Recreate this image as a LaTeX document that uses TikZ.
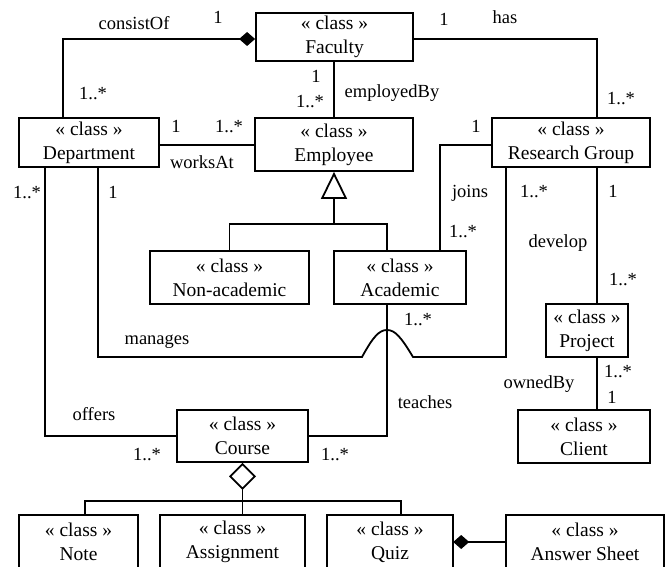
\documentclass[tikz,border=0pt]{standalone}
\usepackage{fontspec}
\setmainfont{Liberation Serif}
\usetikzlibrary{arrows.meta,calc}

\tikzset{
  umlclass/.style={draw, line width=1.8pt, inner sep=0pt, align=center,
    font=\fontsize{19.5}{24}\selectfont},
  openclass/.style={inner sep=0pt, align=center,
    font=\fontsize{19.5}{24}\selectfont},
  assoc/.style={line width=1.8pt},
  lbl/.style={anchor=base, inner sep=0pt, font=\fontsize{18.5}{22}\selectfont},
  compo/.style={-{Diamond[length=16pt,width=14pt]}},
  aggr/.style={{Diamond[open,fill=white,length=27pt,width=27pt]}-},
  inherit/.style={-{Triangle[open,fill=white,length=27pt,width=26pt]}},
}

\begin{document}
\begin{tikzpicture}[x=1pt,y=-1pt]
  \path[use as bounding box] (0,0) rectangle (669,567);
  \clip (0,0) rectangle (669,567);

  % classes
  \node[umlclass, minimum width=157pt, minimum height=48pt] (faculty) at (334.5,37) {« class »\\Faculty};
  \node[umlclass, minimum width=140pt, minimum height=49pt] (dept) at (89,142.5) {« class »\\Department};
  \node[umlclass, minimum width=158pt, minimum height=53pt] (employee) at (334,144.5) {« class »\\Employee};
  \node[umlclass, minimum width=158pt, minimum height=49pt] (group) at (571,142.5) {« class »\\Research Group};
  \node[umlclass, minimum width=159pt, minimum height=53pt] (nonacad) at (229.5,277.5) {« class »\\Non-academic};
  \node[umlclass, minimum width=132pt, minimum height=53pt] (acad) at (400,277.5) {« class »\\Academic};
  \node[umlclass, minimum width=82pt, minimum height=53pt] (project) at (587,330.5) {« class »\\Project};
  \node[umlclass, minimum width=132pt, minimum height=53pt] (client) at (584,436.5) {« class »\\Client};
  \node[umlclass, minimum width=131pt, minimum height=52pt] (course) at (242.5,436) {« class »\\Course};

  % bottom row, running off the lower edge
  \node[openclass, minimum width=119pt, minimum height=54pt] (note) at (78.5,542) {« class »\\Note};
  \node[openclass, minimum width=145pt, minimum height=54pt] (assign) at (232.5,542) {« class »\\Assignment};
  \node[openclass, minimum width=126pt, minimum height=54pt] (quiz) at (390,542) {« class »\\Quiz};
  \node[openclass, minimum width=158pt, minimum height=54pt] (sheet) at (585,542) {« class »\\Answer Sheet};
  \foreach \n in {note,assign,quiz,sheet}
    \draw[assoc] ([yshift=-6pt]\n.south west) -- (\n.north west) -- (\n.north east) -- ([yshift=-6pt]\n.south east);

  % consistOf
  \draw[assoc, compo] ([xshift=-26pt]dept.north) |- ([yshift=-2pt]faculty.west);
  % has
  \draw[assoc] ([yshift=-2pt]faculty.east) -| ([xshift=26pt]group.north);
  % employedBy
  \draw[assoc] (employee.north) -- (employee.north |- faculty.south);
  % worksAt
  \draw[assoc] ([yshift=-2.5pt]dept.east) -- ([yshift=-2.5pt]dept.east -| employee.west);

  % generalisation
  \coordinate (genbar) at (334,224);
  \draw[assoc] (nonacad.north) |- (genbar) -| ([xshift=-13pt]acad.north);
  \draw[assoc, inherit] (genbar) -- (genbar |- employee.south);

  % joins
  \draw[assoc] ([yshift=-2.5pt]group.west) -| ([xshift=40pt]acad.north);

  % manages, hopping over the teaches line
  \coordinate (hop) at ($(acad.south)+(-13pt,0)$);
  \coordinate (hopbase) at (hop |- 0,357);
  \draw[assoc] ([xshift=9pt]dept.south) |- ([xshift=-25pt]hopbase)
    .. controls ([xshift=-14pt,yshift=20pt]hopbase) and ([xshift=-8pt,yshift=27pt]hopbase) .. ([yshift=27pt]hopbase)
    .. controls ([xshift=8pt,yshift=27pt]hopbase) and ([xshift=14pt,yshift=20pt]hopbase) .. ([xshift=26pt]hopbase)
    -| ([xshift=-65pt]group.south);

  % teaches
  \draw[assoc] (course.east) -| (hop);
  % offers
  \draw[assoc] (course.west) -| ([xshift=-44pt]dept.south);

  % develop
  \draw[assoc] ([xshift=26pt]group.south) -- ([xshift=26pt]group.south |- project.north);
  % ownedBy
  \coordinate (own) at ($(project.south)+(10pt,0)$);
  \draw[assoc] (own) -- (own |- client.north);

  % course parts
  \coordinate (partbar) at (course.south |- 0,501);
  \draw[assoc, aggr] (course.south) -- (course.south |- assign.north);
  \draw[assoc] ([xshift=6.5pt]note.north) |- (partbar) -| ([xshift=11pt]quiz.north);
  % quiz answers
  \draw[assoc, compo] (sheet.west) -- (quiz.east);

  % association names and multiplicities
  \node[lbl] (l1) at (134,30) {consistOf};
  \node[lbl] (l2) at (218,24) {1};
  \node[lbl] (l3) at (93,100) {1..*};
  \node[lbl] (l4) at (316,83) {1};
  \node[lbl] (l5) at (310,108) {1..*};
  \node[lbl] (l6) at (392,98) {employedBy};
  \node[lbl] (l7) at (444,26) {1};
  \node[lbl] (l8) at (505,24) {has};
  \node[lbl] (l9) at (621,105) {1..*};
  \node[lbl] (l10) at (176,132) {1};
  \node[lbl] (l11) at (229,132) {1..*};
  \node[lbl] (l12) at (202,168) {worksAt};
  \node[lbl] (l13) at (476,132) {1};
  \node[lbl] (l14) at (27,198) {1..*};
  \node[lbl] (l15) at (113,198) {1};
  \node[lbl] (l16) at (470,197) {joins};
  \node[lbl] (l17) at (534,197) {1..*};
  \node[lbl] (l18) at (613,197) {1};
  \node[lbl] (l19) at (558,247) {develop};
  \node[lbl] (l20) at (463,237) {1..*};
  \node[lbl] (l21) at (623,285) {1..*};
  \node[lbl] (l22) at (418,325) {1..*};
  \node[lbl] (l23) at (157,344) {manages};
  \node[lbl] (l24) at (618,377) {1..*};
  \node[lbl] (l25) at (539,388) {ownedBy};
  \node[lbl] (l26) at (612,403) {1};
  \node[lbl] (l27) at (425,408) {teaches};
  \node[lbl] (l28) at (94,420) {offers};
  \node[lbl] (l29) at (147,460) {1..*};
  \node[lbl] (l30) at (335,460) {1..*};
\end{tikzpicture}
\end{document}
